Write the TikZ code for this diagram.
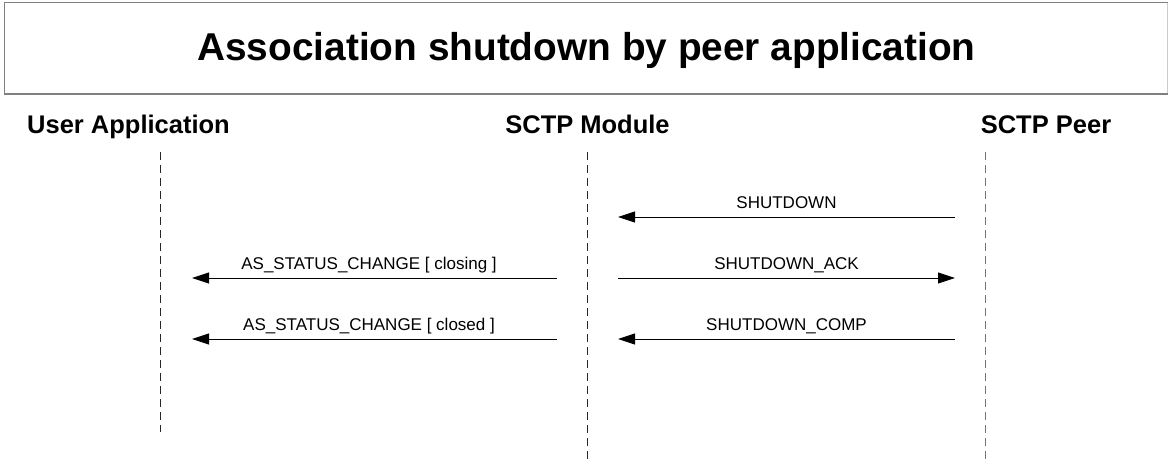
\documentclass[tikz,border=0pt]{standalone}
\usepackage{fontspec}
\setmainfont{Liberation Sans}
\usetikzlibrary{arrows.meta}
\begin{document}
\begin{tikzpicture}[x=1pt,y=-1pt,
  titlefont/.style={font=\fontsize{38.8}{44}\selectfont\bfseries},
  headfont/.style={font=\fontsize{25.5}{30}\selectfont\bfseries},
  msgfont/.style={font=\fontsize{17}{20}\selectfont},
  lifeline/.style={dash pattern=on 8pt off 5pt, line width=0.8pt},
  msg/.style={line width=0.9pt, -{Triangle[length=17pt,width=11pt]}},
  lbl/.style={msgfont, anchor=base, inner sep=0pt},
  framecol/.style={draw=black!50}
]
\useasboundingbox (0,0) rectangle (1168,463);
% title frame
\draw[framecol, line width=1pt] (1168,2.5) -- (4,2.5) -- (4,94);
\draw[black!20, line width=0.8pt] (1167,2.5) -- (1167,93);
\draw[framecol, line width=2pt] (4,93.5) -- (1168,93.5);
\node[titlefont, anchor=base, inner sep=0pt] (title) at (586.5,60) {Association shutdown by peer application};
% heads
\node[headfont, anchor=base, inner sep=0pt] (user) at (128.5,133) {User Application};
\node[headfont, anchor=base, inner sep=0pt] (sctp) at (587.5,133) {SCTP Module};
\node[headfont, anchor=base, inner sep=0pt] (peer) at (1046,133) {SCTP Peer};
% lifelines
\coordinate (userTop) at (160,152);
\coordinate (userBot) at (160,432);
\coordinate (sctpTop) at (587,152);
\coordinate (sctpBot) at (587,463);
\coordinate (peerTop) at (985,152);
\coordinate (peerBot) at (985,463);
\draw[lifeline, black!85] (userTop) -- (userBot);
\draw[lifeline, black!85] (sctpTop) -- (sctpBot);
\draw[lifeline, black!55] (peerTop) -- (peerBot);
% message end points
\coordinate (pA) at (955,217);
\coordinate (sA) at (618,217);
\coordinate (sB) at (618,278);
\coordinate (pB) at (955,278);
\coordinate (pC) at (955,339);
\coordinate (sC) at (618,339);
\coordinate (sD) at (557,278);
\coordinate (uD) at (192,278);
\coordinate (sE) at (557,339);
\coordinate (uE) at (192,339);
% messages
\draw[msg] (pA) -- (sA) node[lbl, pos=0.5, yshift=9pt] (mA) {SHUTDOWN};
\draw[msg] (sB) -- (pB) node[lbl, pos=0.5, yshift=9pt] (mB) {SHUTDOWN\_ACK};
\draw[msg] (pC) -- (sC) node[lbl, pos=0.5, yshift=9pt] (mC) {SHUTDOWN\_COMP};
\draw[msg] (sD) -- (uD) node[lbl, pos=0.515, yshift=9pt] (mD) {AS\_STATUS\_CHANGE [ closing ]};
\draw[msg] (sE) -- (uE) node[lbl, pos=0.515, yshift=9pt] (mE) {AS\_STATUS\_CHANGE [ closed ]};
\end{tikzpicture}
\end{document}
